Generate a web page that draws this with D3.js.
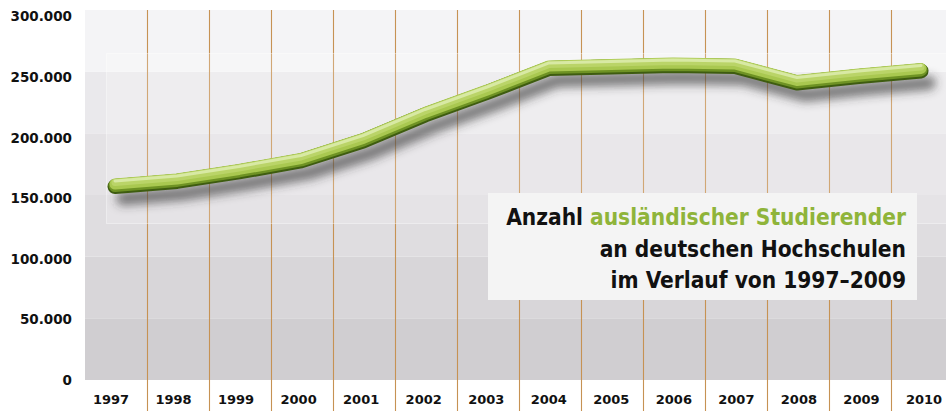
<!DOCTYPE html>
<html><head><meta charset="utf-8">
<script src="https://cdn.jsdelivr.net/npm/d3@7"></script>
<style>
html,body{margin:0;padding:0;background:#fff;}
svg{display:block;}
</style></head>
<body><svg id="chart" width="946" height="411"></svg>
<script>
// ---- data ----
const years = [1997,1998,1999,2000,2001,2002,2003,2004,2005,2006,2007,2008,2009,2010];
const students = [157700,161800,169500,178400,194600,215700,233900,253400,254500,255800,255000,241600,246900,251400];
const yTickValues = [0,50000,100000,150000,200000,250000,300000];
const bandColors = ["#d0ced1","#d8d6d9","#dfdde0","#e4e2e5","#eae9ec","#f4f4f6"];
const titleLines = [
  [{t:"Anzahl ",c:"#111"},{t:"ausländischer Studierender",c:"#8fb43a"}],
  [{t:"an deutschen Hochschulen",c:"#111"}],
  [{t:"im Verlauf von 1997–2009",c:"#111"}]
];

(function(){
const W = 946, H = 411;
const pLeft = 85, pRight = 953, pTop = 10, pBottom = 380;
const svg = d3.select("#chart");

const x = d3.scaleBand().domain(years).range([pLeft, pRight]).paddingInner(0).paddingOuter(0);
const xLab = d3.scalePoint().domain(years).range([111, 924]);
const y = d3.scaleLinear().domain([0,300000]).range([pBottom, pTop]);
const yLab = d3.scaleLinear().domain([0,300000]).range([pBottom, 16.5]);
const de = d3.formatLocale({decimal:",", thousands:".", grouping:[3], currency:["","€"]});
const fmt = de.format(",");
const cx = d => x(d) + x.bandwidth()/2 - 1;

// defs
const defs = svg.append("defs");
const sh = defs.append("filter").attr("id","shadow").attr("x","-10%").attr("y","-50%").attr("width","120%").attr("height","200%");
sh.append("feGaussianBlur").attr("stdDeviation",5);

// bands
svg.append("g").selectAll("rect").data(bandColors).join("rect")
  .attr("x", pLeft).attr("width", W-pLeft)
  .attr("y", (c,i) => y(yTickValues[i+1]))
  .attr("height", (c,i) => y(yTickValues[i]) - y(yTickValues[i+1]))
  .attr("fill", c => c);

// vertical grid lines at band boundaries
svg.append("g").selectAll("line").data(years.slice(1)).join("line")
  .attr("x1", d => Math.round(x(d))+0.5).attr("x2", d => Math.round(x(d))+0.5)
  .attr("y1", pTop).attr("y2", H)
  .attr("stroke","#c69253").attr("stroke-width",1.1);

// faint light overlay panel
svg.append("rect").attr("x",106.5).attr("y",53.5).attr("width",W-106).attr("height",170)
  .attr("fill","#fff").attr("fill-opacity",0.2)
  .attr("stroke","#fff").attr("stroke-opacity",0.4);

// line
const line = d3.line().x((d,i)=>cx(years[i])).y(d=>y(d)).curve(d3.curveLinear);
const pathD = line(students);
svg.append("path").attr("d",pathD).attr("fill","none")
  .attr("stroke","#333").attr("stroke-opacity",0.6).attr("stroke-width",14)
  .attr("stroke-linecap","round").attr("stroke-linejoin","round")
  .attr("transform","translate(8,13)").attr("filter","url(#shadow)");
const layers = [
  {w:15, c:"#3e5c10", dy:1},
  {w:13, c:"#6e9224", dy:0},
  {w:11, c:"#a9c850", dy:-1.5},
  {w:7,  c:"#bad468", dy:-3},
  {w:3,  c:"#d8e9a4", dy:-4.5}
];
svg.append("g").selectAll("path").data(layers).join("path")
  .attr("d",pathD).attr("fill","none")
  .attr("stroke",d=>d.c).attr("stroke-width",d=>d.w)
  .attr("stroke-linecap","round").attr("stroke-linejoin","round")
  .attr("transform",d=>`translate(0,${d.dy})`);

// y labels
svg.append("g").selectAll("text").data(yTickValues).join("text")
  .attr("x",72).attr("y",d=>yLab(d)).attr("dy","0.36em")
  .attr("text-anchor","end")
  .style("font-family","DejaVu Sans").style("font-weight","bold").style("font-size","13.5px")
  .attr("fill","#111").text(d=>fmt(d));

// x labels
svg.append("g").selectAll("text").data(years).join("text")
  .attr("x",d=>xLab(d)).attr("y",404)
  .attr("text-anchor","middle")
  .style("font-family","DejaVu Sans").style("font-weight","bold").style("font-size","13px")
  .attr("fill","#111").text(d=>d);

// title box
svg.append("rect").attr("x",488).attr("y",193).attr("width",429).attr("height",107).attr("fill","#f4f4f4");
const tg = svg.append("g").style("font-family","DejaVu Sans Condensed").style("font-weight","bold").style("font-size","22.5px");
const baselines = [224.5,256.5,288];
titleLines.forEach((ln,i)=>{
  const t = tg.append("text").attr("x",906).attr("y",baselines[i]).attr("text-anchor","end");
  ln.forEach(s=>t.append("tspan").attr("fill",s.c).text(s.t));
});
})();
</script>
</body></html>
